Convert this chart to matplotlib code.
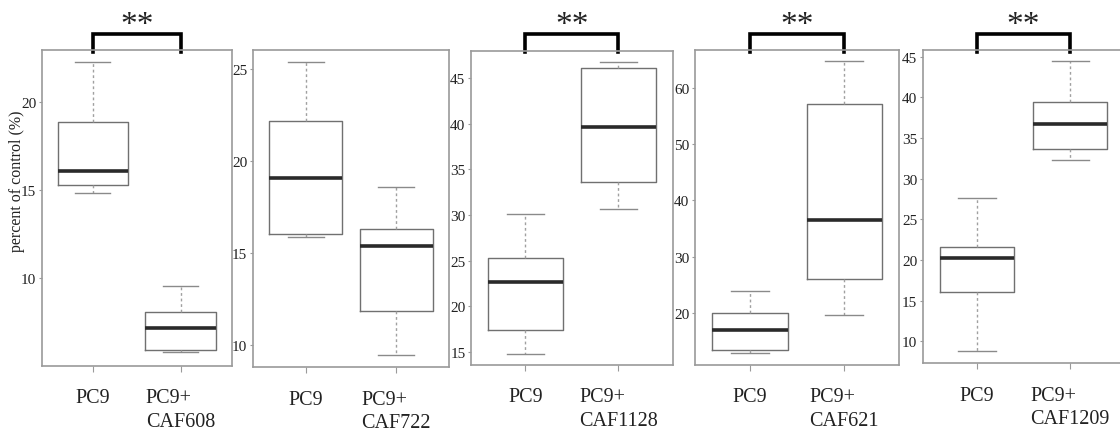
import matplotlib
matplotlib.use("Agg")
import matplotlib.pyplot as plt
import matplotlib.transforms as mtransforms

plt.rcParams['font.family'] = ['Liberation Serif', 'DejaVu Serif']

# box statistics: (low whisker, Q1, median, Q3, high whisker)
pc9_608 = [14.85, 15.3, 16.1, 18.9, 22.3]
caf608 = [5.8, 5.9, 7.15, 8.05, 9.55]
pc9_722 = [15.85, 16.05, 19.1, 22.15, 25.4]
caf722 = [9.45, 11.85, 15.4, 16.3, 18.6]
pc9_1128 = [14.8, 17.4, 22.6, 25.3, 30.1]
caf1128 = [30.6, 33.6, 39.6, 46.1, 46.8]
pc9_621 = [12.9, 13.4, 17.0, 20.0, 23.9]
caf621 = [19.6, 26.0, 36.5, 57.2, 64.8]
pc9_1209 = [8.8, 16.1, 20.25, 21.6, 27.6]
caf1209 = [32.3, 33.6, 36.75, 39.35, 44.4]

groups = ["CAF608", "CAF722", "CAF1128", "CAF621", "CAF1209"]
pairs = [(pc9_608, caf608), (pc9_722, caf722), (pc9_1128, caf1128),
         (pc9_621, caf621), (pc9_1209, caf1209)]
significant = [True, False, True, True, True]
yticks = [[10, 15, 20], [10, 15, 20, 25], [15, 20, 25, 30, 35, 40, 45],
          [20, 30, 40, 50, 60], [10, 15, 20, 25, 30, 35, 40, 45]]
ylims = [(5.0, 23.0), (8.8, 26.03), (13.55, 48.0), (10.7, 66.8), (7.3, 45.8)]

W, H = 1120, 435
fig = plt.figure(figsize=(W / 100, H / 100), dpi=100)

# axes boxes in pixels: left, top, right, bottom
rects = [(41.7, 50.7, 231.7, 366.7), (252.7, 51, 449.3, 368.3),
         (471, 51.7, 672.7, 366), (695, 51, 899.3, 366),
         (922.7, 51, 1124.5, 364.3)]

grey = "#9a9a9a"
for i, (a, b) in enumerate(pairs):
    l, t, r, btm = rects[i]
    ax = fig.add_axes([l / W, 1 - btm / H, (r - l) / W, (btm - t) / H])
    stats = []
    for lab, v in zip(["PC9", "PC9+\n" + groups[i]], [a, b]):
        stats.append(dict(label=lab, whislo=v[0], q1=v[1], med=v[2], q3=v[3], whishi=v[4]))
    ax.bxp(stats, positions=[1, 2], widths=0.8, showfliers=False,
           boxprops=dict(color="#707070", linewidth=1.0),
           medianprops=dict(color="#2a2a2a", linewidth=2.6, solid_capstyle="butt"),
           whiskerprops=dict(color="#a0a0a0", linewidth=1.0, linestyle=(0, (2, 2))),
           capprops=dict(color="#8a8a8a", linewidth=1.0),
           capwidths=0.4)
    ax.set_xlim(0.416, 2.584)
    ax.set_ylim(*ylims[i])
    ax.set_yticks(yticks[i])
    for s in ax.spines.values():
        s.set_color(grey)
        s.set_linewidth(1.2)
    ax.tick_params(axis="y", length=2, width=0.8, color=grey, pad=2, labelsize=11,
                   labelcolor="#222222")
    ax.tick_params(axis="x", length=4, width=0.8, color=grey, pad=12, labelsize=14.5,
                   labelcolor="#222222")
    labs = ax.get_xticklabels()
    for lbl in labs:
        lbl.set_verticalalignment("top")
        lbl.set_linespacing(1.35)
    labs[1].set_multialignment("left")
    if significant[i]:
        trans = mtransforms.blended_transform_factory(ax.transData, fig.transFigure)
        ax.plot([1, 1, 2, 2], [1 - 53 / H, 1 - 35 / H, 1 - 35 / H, 1 - 53 / H],
                color="black", linewidth=2.6, transform=trans, clip_on=False,
                solid_joinstyle="miter")
        ax.text(1.5, 1 - 26 / H, "**", transform=trans, ha="center", va="center",
                fontsize=24, color="#222222")

fig.text(17.5 / W, 1 - 181 / H, "percent of control (%)", rotation=90,
         ha="center", va="center", fontsize=11.5, color="#222222")

fig.savefig("out.png", dpi=100)
